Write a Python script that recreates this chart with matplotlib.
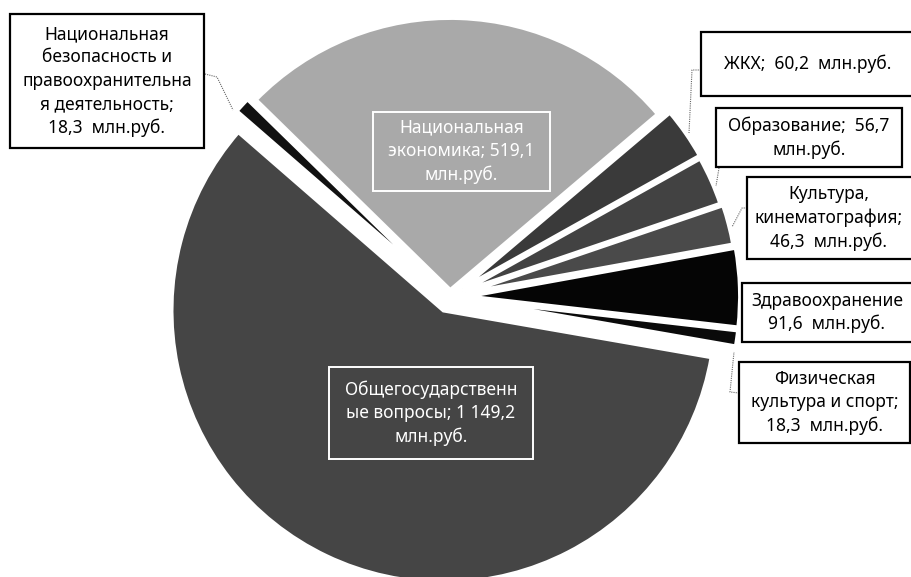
import numpy as np
import matplotlib
matplotlib.use("Agg")
import matplotlib.pyplot as plt
from matplotlib.patches import Rectangle

plt.rcParams['font.family'] = ['Noto Sans', 'DejaVu Sans']

# данные: расходы бюджета, млн.руб.
names = ['Общегосударственные вопросы',
         'Национальная безопасность и правоохранительная деятельность',
         'Национальная экономика', 'ЖКХ', 'Образование',
         'Культура, кинематография', 'Здравоохранение',
         'Физическая культура и спорт']
values = [1149.2, 18.3, 519.1, 60.2, 56.7, 46.3, 91.6, 18.3]
colors = ['#454545', '#111111', '#a9a9a9', '#3a3a3a', '#424242',
          '#4a4a4a', '#050505', '#0a0a0a']
explode_px = [15, 11, 7, 15, 14, 16, 18, 18]

W, H = 911, 577


def fy(y):
    # пиксели картинки (сверху вниз) -> координаты осей
    return H - y


fig = plt.figure(figsize=(W / 100, H / 100), dpi=100)
ax = fig.add_axes([0, 0, 1, 1])

ax.pie(values, colors=colors, explode=explode_px, center=(450, fy(297)),
       radius=272, startangle=-9.9, counterclock=False,
       wedgeprops=dict(edgecolor='white', linewidth=2.8))

ax.set_xlim(0, W)
ax.set_ylim(0, H)
ax.set_aspect('equal')
ax.axis('off')


def fmt(v):
    s = f'{v:,.1f}'.replace(',', ' ').replace('.', ',')
    return s


# подписи снаружи: (текст, x0, y0, x1, y1)
outer = [
    ('Национальная\nбезопасность и\nправоохранительна\nя деятельность;\n'
     f'{fmt(values[1])}  млн.руб.', 10, 14, 204, 148),
    (f'ЖКХ;  {fmt(values[3])}  млн.руб.', 701, 32, 920, 96),
    (f'Образование;  {fmt(values[4])}\nмлн.руб.', 716, 108, 902, 167),
    (f'Культура,\nкинематография;\n{fmt(values[5])}  млн.руб.', 747, 177, 920, 259),
    (f'Здравоохранение\n{fmt(values[6])}  млн.руб.', 742, 283, 920, 342),
    (f'Физическая\nкультура и спорт;\n{fmt(values[7])}  млн.руб.', 739, 362, 910, 443),
]
text_cx = [107, 808, 809, 829, 827, 825]
for (txt, x0, y0, x1, y1), cx in zip(outer, text_cx):
    ax.add_patch(Rectangle((x0, fy(y1)), x1 - x0, y1 - y0, facecolor='white',
                           edgecolor='black', linewidth=1.6, zorder=3))
    ax.text(cx, fy((y0 + y1) / 2), txt, ha='center', va='center',
            fontsize=12.5, linespacing=1.38, color='black', zorder=4)

# выноски
leaders = [
    ([205, 217, 233], [74, 77, 110]),
    ([701, 692, 689], [70, 70, 133]),
    ([719, 716], [168, 186]),
    ([747, 742, 732], [208, 208, 227]),
    ([739, 730, 734], [393, 392, 352]),
]
for xs, ys in leaders:
    ax.plot(xs, [fy(y) for y in ys], color='#666666', linewidth=0.8,
            linestyle=(0, (1, 1)), zorder=2)

# подписи внутри
inner = [
    (f'Национальная\nэкономика; {fmt(values[2])}\nмлн.руб.', 373, 112, 550, 191),
    (f'Общегосударственн\nые вопросы; {fmt(values[0])}\nмлн.руб.', 329, 367, 533, 459),
]
for txt, x0, y0, x1, y1 in inner:
    ax.add_patch(Rectangle((x0, fy(y1)), x1 - x0, y1 - y0, facecolor='none',
                           edgecolor='white', linewidth=1.4, zorder=3))
    ax.text((x0 + x1) / 2, fy((y0 + y1) / 2), txt, ha='center', va='center',
            fontsize=12.5, linespacing=1.38, color='white', zorder=4)

fig.savefig('out.png', dpi=100)
